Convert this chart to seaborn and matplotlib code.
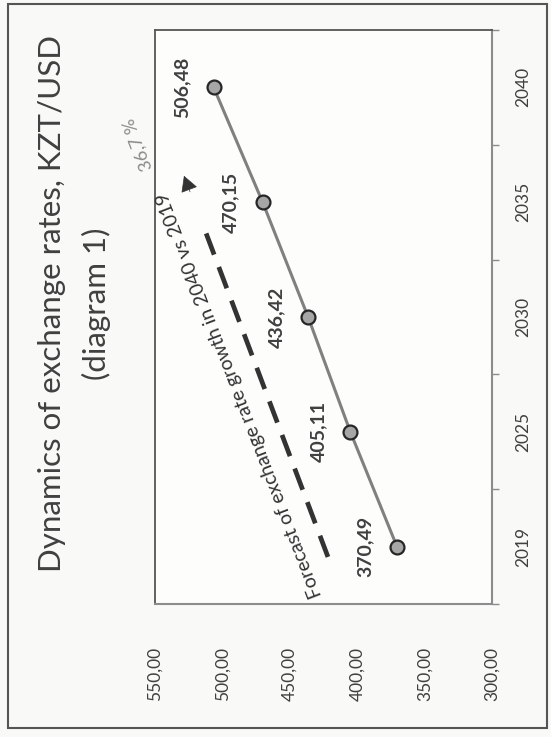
import numpy as np
import pandas as pd
import matplotlib.pyplot as plt
from matplotlib.patches import Rectangle
import seaborn as sns

# chart data
years = ["2019", "2025", "2030", "2035", "2040"]
rates = [370.49, 405.11, 436.42, 470.15, 506.48]
value_ticks = [300, 350, 400, 450, 500, 550]
growth_pct = 36.7
arrow_note = "Forecast of exchange rate growth in 2040 vs 2019"
title_1 = "Dynamics of exchange rates, KZT/USD"
title_2 = "(diagram 1)"


def comma(v, nd=2):
    return f"{v:.{nd}f}".replace(".", ",")


sns.set_style("white")
plt.rcParams["font.family"] = ["Lato", "DejaVu Sans"]

W, H = 551, 737
fig = plt.figure(figsize=(W / 100, H / 100), dpi=100, facecolor="#f9f9f7")


def fx(px):
    return px / W


def fy(py):
    return 1 - py / H


# the chart is shown turned a quarter turn: years go up, values run right-to-left
ax = fig.add_axes([fx(155), fy(604), (492 - 155) / W, (604 - 30) / H])
ax.set_facecolor("#fdfdfc")

df = pd.DataFrame({"year": years, "pos": np.arange(len(years)), "rate": rates})
sns.lineplot(data=df, x="rate", y="pos", orient="y", sort=False, estimator=None,
             color="#808080", lw=2.2, marker="o", markersize=10,
             markerfacecolor="#a6a6a6", markeredgecolor="#262626",
             markeredgewidth=1.6, ax=ax)

ax.set_xlim(550, 300)
ax.set_ylim(-0.5, len(years) - 0.5)
ax.set_xlabel("")
ax.set_ylabel("")

ax.set_xticks(value_ticks)
ax.set_xticklabels([comma(v) for v in value_ticks], rotation=90,
                   fontsize=12.5, color="#404040")
ax.tick_params(axis="x", length=5, width=1, color="#8c8c8c", pad=26)

ax.yaxis.tick_right()
ax.set_yticks(df["pos"])
ax.set_yticklabels(years, rotation=90, va="center", fontsize=12.5, color="#404040")
ax.set_yticks(np.arange(-0.5, len(years), 1), minor=True)
ax.tick_params(axis="y", which="major", length=0, pad=17)
ax.tick_params(axis="y", which="minor", right=True, length=5, width=1,
               color="#8c8c8c", direction="out")

for side in ["left", "top"]:
    ax.spines[side].set_color("#555555")
    ax.spines[side].set_linewidth(1.3)
for side in ["right", "bottom"]:
    ax.spines[side].set_color("#8c8c8c")
    ax.spines[side].set_linewidth(1.5)

# data labels
for p, v in zip(df["pos"], rates):
    ax.annotate(comma(v), (v, p), xytext=(-23, 0), textcoords="offset points",
                rotation=90, ha="center", va="center", fontsize=14,
                fontweight="bold", color="#404040")

# dashed forecast arrow
arrow_start = (421.7, -0.09)
arrow_tip = (528.5, 3.23)
dash_end = (515.0, 2.82)
head_base = (524.0, 3.09)
ax.plot([arrow_start[0], dash_end[0]], [arrow_start[1], dash_end[1]],
        color="#333333", lw=3.4, linestyle=(0, (4.8, 2.8)), solid_capstyle="butt")
ax.annotate("", xy=arrow_tip, xytext=head_base,
            arrowprops=dict(arrowstyle="-|>,head_length=1.0,head_width=0.55",
                            color="#333333", lw=0.5, shrinkA=0, shrinkB=0))

ax.text(426.0, -0.42, arrow_note, rotation=111, rotation_mode="anchor",
        ha="left", va="baseline", fontsize=14, color="#333333", clip_on=False)
ax.text(551.5, 3.30, f"{comma(growth_pct, 1)} %", rotation=111,
        rotation_mode="anchor", ha="left", va="baseline", fontsize=13,
        color="#8a8a8a", clip_on=False)

# title, also turned
fig.text(fx(61), fy(304), title_1, rotation=90, rotation_mode="anchor",
         ha="center", va="baseline", fontsize=22.5, color="#404040")
fig.text(fx(106), fy(304), title_2, rotation=90, rotation_mode="anchor",
         ha="center", va="baseline", fontsize=22.5, color="#404040")

fig.patches.append(Rectangle((fx(8), fy(728)), (547 - 8) / W, (728 - 4) / H,
                             fill=False, edgecolor="#555555", lw=1.5,
                             transform=fig.transFigure))

fig.savefig("out.png", dpi=100, facecolor=fig.get_facecolor())
